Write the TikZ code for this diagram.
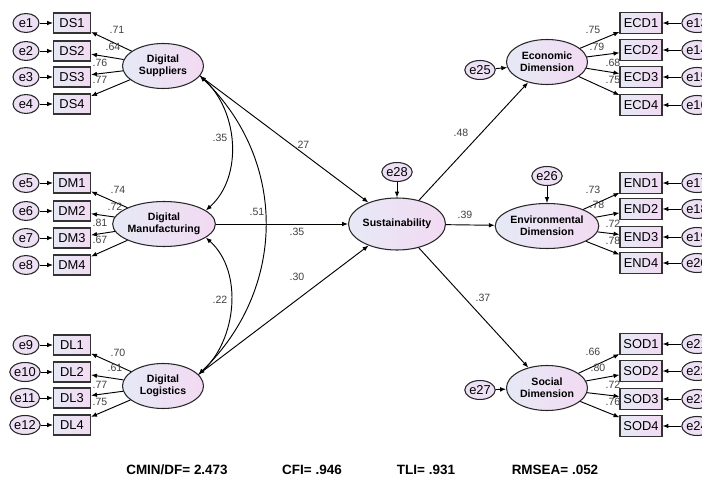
\documentclass[tikz,border=0pt]{standalone}
\usepackage{fontspec}
\setmainfont{Liberation Sans}
\usetikzlibrary{shapes.geometric, arrows.meta, positioning}

\definecolor{shadeleft}{RGB}{230,233,246}
\definecolor{shaderight}{RGB}{242,218,242}

\begin{document}
\begin{tikzpicture}[
    x=0.03cm, y=-0.03cm,
    latent/.style={ellipse, draw=black!85, line width=0.9pt, left color=shadeleft, right color=shaderight, minimum width=2.43cm, minimum height=1.35cm, inner sep=0pt, align=center, font=\fontsize{9}{10.5}\selectfont\bfseries},
    indicator/.style={rectangle, draw=black!80, line width=1pt, left color=shadeleft, right color=shaderight, minimum width=1.11cm, minimum height=0.6cm, inner sep=0pt, font=\fontsize{11}{13}\selectfont},
    wideind/.style={indicator, minimum width=1.26cm, minimum height=0.63cm},
    err/.style={ellipse, draw=black!85, line width=0.9pt, fill=shaderight!60!shadeleft, minimum width=0.78cm, minimum height=0.57cm, inner sep=0pt, font=\fontsize{11}{13}\selectfont},
    arrow/.style={-{Latex[length=5pt,width=4pt]}, line width=0.8pt},
    cov/.style={{Latex[length=5pt,width=4pt]}-{Latex[length=5pt,width=4pt]}, line width=0.8pt},
    lbl/.style={font=\fontsize{9}{10}\selectfont, text=black!75, inner sep=0pt},
    fitidx/.style={font=\fontsize{11.5}{13}\selectfont\bfseries}
]
\useasboundingbox (0,0) rectangle (702,484);

% Latent variables
\node[latent] (ds) at (163,66) {Digital\\Suppliers};
\node[latent] (dm) at (164,224) {Digital\\Manufacturing};
\node[latent] (dl) at (163,386) {Digital\\Logistics};
\node[latent, minimum height=1.56cm] (sust) at (397,224) {Sustainability};
\node[latent] (econ) at (547,62) {Economic\\Dimension};
\node[latent] (env) at (547,226) {Environmental\\Dimension};
\node[latent] (soc) at (547,388) {Social\\Dimension};

% Indicators, left
\node[indicator] (ds1) at (72,23) {DS1};
\node[indicator] (ds2) at (72,51) {DS2};
\node[indicator] (ds3) at (72,77) {DS3};
\node[indicator] (ds4) at (72,104) {DS4};
\node[indicator] (dm1) at (72,183) {DM1};
\node[indicator] (dm2) at (72,211) {DM2};
\node[indicator] (dm3) at (72,238) {DM3};
\node[indicator] (dm4) at (72,265) {DM4};
\node[indicator] (dl1) at (72,345) {DL1};
\node[indicator] (dl2) at (72,372) {DL2};
\node[indicator] (dl3) at (72,398) {DL3};
\node[indicator] (dl4) at (72,425) {DL4};

% Indicators, right
\node[wideind] (ecd1) at (641,23) {ECD1};
\node[wideind] (ecd2) at (641,50) {ECD2};
\node[wideind] (ecd3) at (641,77) {ECD3};
\node[wideind] (ecd4) at (641,105) {ECD4};
\node[wideind] (end1) at (641,183) {END1};
\node[wideind] (end2) at (641,209) {END2};
\node[wideind] (end3) at (641,237) {END3};
\node[wideind] (end4) at (641,263) {END4};
\node[wideind] (sod1) at (641,344) {SOD1};
\node[wideind] (sod2) at (641,371) {SOD2};
\node[wideind] (sod3) at (641,399) {SOD3};
\node[wideind] (sod4) at (641,426) {SOD4};

% Error terms
\node[err] (e1) at (26,23) {e1};
\node[err] (e2) at (26,51) {e2};
\node[err] (e3) at (26,77) {e3};
\node[err] (e4) at (26,104) {e4};
\node[err] (e5) at (26,183) {e5};
\node[err] (e6) at (26,211) {e6};
\node[err] (e7) at (26,238) {e7};
\node[err] (e8) at (26,265) {e8};
\node[err] (e9) at (26,345) {e9};
\node[err] (e10) at (25,372) {e10};
\node[err] (e11) at (25,398) {e11};
\node[err] (e12) at (25,425) {e12};
\node[err] (e13) at (697,23) {e13};
\node[err] (e14) at (697,50) {e14};
\node[err] (e15) at (697,77) {e15};
\node[err] (e16) at (697,105) {e16};
\node[err] (e17) at (697,183) {e17};
\node[err] (e18) at (697,209) {e18};
\node[err] (e19) at (697,237) {e19};
\node[err] (e20) at (697,263) {e20};
\node[err] (e21) at (697,344) {e21};
\node[err] (e22) at (697,371) {e22};
\node[err] (e23) at (697,399) {e23};
\node[err] (e24) at (697,426) {e24};
\node[err] (e25) at (480,70) {e25};
\node[err] (e26) at (547,176) {e26};
\node[err] (e27) at (480,390) {e27};
\node[err, minimum width=0.9cm] (e28) at (397,172) {e28};

% Error arrows
\draw[arrow] (e1) -- (ds1);
\draw[arrow] (e2) -- (ds2);
\draw[arrow] (e3) -- (ds3);
\draw[arrow] (e4) -- (ds4);
\draw[arrow] (e5) -- (dm1);
\draw[arrow] (e6) -- (dm2);
\draw[arrow] (e7) -- (dm3);
\draw[arrow] (e8) -- (dm4);
\draw[arrow] (e9) -- (dl1);
\draw[arrow] (e10) -- (dl2);
\draw[arrow] (e11) -- (dl3);
\draw[arrow] (e12) -- (dl4);
\draw[arrow] (e13) -- (ecd1);
\draw[arrow] (e14) -- (ecd2);
\draw[arrow] (e15) -- (ecd3);
\draw[arrow] (e16) -- (ecd4);
\draw[arrow] (e17) -- (end1);
\draw[arrow] (e18) -- (end2);
\draw[arrow] (e19) -- (end3);
\draw[arrow] (e20) -- (end4);
\draw[arrow] (e21) -- (sod1);
\draw[arrow] (e22) -- (sod2);
\draw[arrow] (e23) -- (sod3);
\draw[arrow] (e24) -- (sod4);
\draw[arrow] (e25) -- (econ.188);
\draw[arrow] (e26) -- (env);
\draw[arrow] (e27) -- (soc);
\draw[arrow] (e28) -- (sust);

% Loadings
\draw[arrow] (ds) -- (ds1);
\draw[arrow] (ds) -- (ds2);
\draw[arrow] (ds) -- (ds3);
\draw[arrow] (ds) -- (ds4);
\draw[arrow] (dm) -- (dm1);
\draw[arrow] (dm) -- (dm2);
\draw[arrow] (dm) -- (dm3);
\draw[arrow] (dm) -- (dm4);
\draw[arrow] (dl) -- (dl1);
\draw[arrow] (dl) -- (dl2);
\draw[arrow] (dl) -- (dl3);
\draw[arrow] (dl) -- (dl4);
\draw[arrow] (econ) -- (ecd1);
\draw[arrow] (econ) -- (ecd2);
\draw[arrow] (econ) -- (ecd3);
\draw[arrow] (econ) -- (ecd4);
\draw[arrow] (env) -- (end1);
\draw[arrow] (env) -- (end2);
\draw[arrow] (env) -- (end3);
\draw[arrow] (env) -- (end4);
\draw[arrow] (soc) -- (sod1);
\draw[arrow] (soc) -- (sod2);
\draw[arrow] (soc) -- (sod3);
\draw[arrow] (soc) -- (sod4);

% Structural paths
\draw[arrow] (ds.-15) -- (sust);
\draw[arrow] (dm) -- (sust);
\draw[arrow] (dl.18) -- (sust);
\draw[arrow] (sust) -- (econ);
\draw[arrow] (sust) -- (env);
\draw[arrow] (sust) -- (soc);

% Covariances
\draw[cov] (ds.-15) .. controls +(38,34) and +(38,-34) .. (dm.18);
\draw[cov] (ds.-15) .. controls +(88,85) and +(88,-85) .. (dl.18);
\draw[cov] (dl.18) .. controls +(38,-34) and +(38,34) .. (dm.-18);

% Weights
\node[lbl] (w-ds1) at (117,30) {.71};
\node[lbl] (w-ds2) at (113,47) {.64};
\node[lbl] (w-ds3) at (100,63) {.76};
\node[lbl] (w-ds4) at (100,80) {.77};
\node[lbl] (w-dm1) at (118,190) {.74};
\node[lbl] (w-dm2) at (115,207) {.72};
\node[lbl] (w-dm3) at (100,223) {.81};
\node[lbl] (w-dm4) at (100,240) {.67};
\node[lbl] (w-dl1) at (118,353) {.70};
\node[lbl] (w-dl2) at (115,368) {.61};
\node[lbl] (w-dl3) at (100,385) {.77};
\node[lbl] (w-dl4) at (100,402) {.75};
\node[lbl] (w-ecd1) at (593,30) {.75};
\node[lbl] (w-ecd2) at (597,47) {.79};
\node[lbl] (w-ecd3) at (613,63) {.68};
\node[lbl] (w-ecd4) at (613,80) {.75};
\node[lbl] (w-end1) at (593,190) {.73};
\node[lbl] (w-end2) at (597,205) {.78};
\node[lbl] (w-end3) at (613,224) {.72};
\node[lbl] (w-end4) at (613,241) {.78};
\node[lbl] (w-sod1) at (593,352) {.66};
\node[lbl] (w-sod2) at (598,368) {.80};
\node[lbl] (w-sod3) at (613,385) {.72};
\node[lbl] (w-sod4) at (613,402) {.76};
\node[lbl] (w-ds) at (302,145) {.27};
\node[lbl] (w-dm) at (297,232) {.35};
\node[lbl] (w-dl) at (297,277) {.30};
\node[lbl] (c-dsdl) at (257,212) {.51};
\node[lbl] (c-dsdm) at (220,138) {.35};
\node[lbl] (c-dldm) at (220,300) {.22};
\node[lbl] (w-econ) at (461,133) {.48};
\node[lbl] (w-env) at (465,215) {.39};
\node[lbl] (w-soc) at (483,298) {.37};

% Fit indices
\node[fitidx] (cmin) at (177,470) {CMIN/DF= 2.473};
\node[fitidx] (cfi) at (312,470) {CFI= .946};
\node[fitidx] (tli) at (426,470) {TLI= .931};
\node[fitidx] (rmsea) at (555,470) {RMSEA= .052};

\end{tikzpicture}
\end{document}
